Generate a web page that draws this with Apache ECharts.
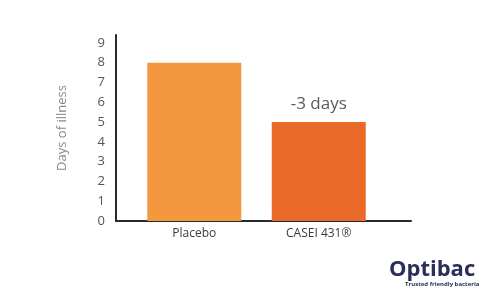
<!DOCTYPE html>
<html>
<head>
<meta charset="utf-8">
<script src="https://cdn.jsdelivr.net/npm/echarts@6/dist/echarts.min.js"></script>
<style>html,body{margin:0;padding:0;background:#fff}#c{width:500px;height:300px}</style>
</head>
<body>
<div id="c"></div>
<script>
var categories = ["Placebo", "CASEI 431®"];
var values = [8, 5];
var barColors = ["#F4983F", "#E96A28"];
var barNotes = ["", "-3 days"];
var yTicks = [0, 1, 2, 3, 4, 5, 6, 7, 8, 9];

var font = "Open Sans";
var chart = echarts.init(document.getElementById('c'));
var yMax = 9.4;
chart.setOption({
  animation: false,
  grid: [
    {left: 116, right: 89, top: 35, bottom: 79},
    {left: 132, right: 119, top: 35, bottom: 79}
  ],
  xAxis: [
    {gridIndex: 0, type: 'value', min: 0, max: 1,
     axisLine: {show: true, onZero: false, lineStyle: {color: '#2a2a2a', width: 2}},
     axisTick: {show: false}, axisLabel: {show: false}, splitLine: {show: false}},
    {gridIndex: 1, type: 'category', data: categories,
     axisLine: {show: false}, axisTick: {show: false},
     axisLabel: {color: '#3a3a3a', fontFamily: font, fontSize: 12, margin: 7}}
  ],
  yAxis: [
    {gridIndex: 0, type: 'value', min: 0, max: yMax, interval: 1,
     name: 'Days of illness', nameLocation: 'middle', nameGap: 47,
     nameTextStyle: {color: '#8a8a8a', fontFamily: font, fontSize: 13},
     axisLine: {show: true, lineStyle: {color: '#2a2a2a', width: 2}},
     axisTick: {show: false}, splitLine: {show: false},
     axisLabel: {color: '#555', fontFamily: font, fontSize: 13, margin: 11, showMaxLabel: false,
       formatter: function (v) { return yTicks.indexOf(v) >= 0 ? String(v) : ''; }}},
    {gridIndex: 1, type: 'value', min: 0, max: yMax, show: false}
  ],
  series: [{
    type: 'bar', xAxisIndex: 1, yAxisIndex: 1, barWidth: 94,
    data: values.map(function (v, i) {
      return {value: v, itemStyle: {color: barColors[i]},
        label: {show: !!barNotes[i], position: 'top', distance: 9, formatter: barNotes[i],
          color: '#5a5a5a', fontFamily: font, fontSize: 17}};
    })
  }],
  graphic: [
    {type: 'text', left: 389, top: 259, style: {text: 'Optibac', fill: '#2B2E5A', font: 'bold 22px "Open Sans"'}},
    {type: 'text', left: 405, top: 281, style: {text: 'Trusted friendly bacteria', fill: '#2B2E5A', font: 'bold 6px "Open Sans"'}}
  ]
});
</script>
</body>
</html>
